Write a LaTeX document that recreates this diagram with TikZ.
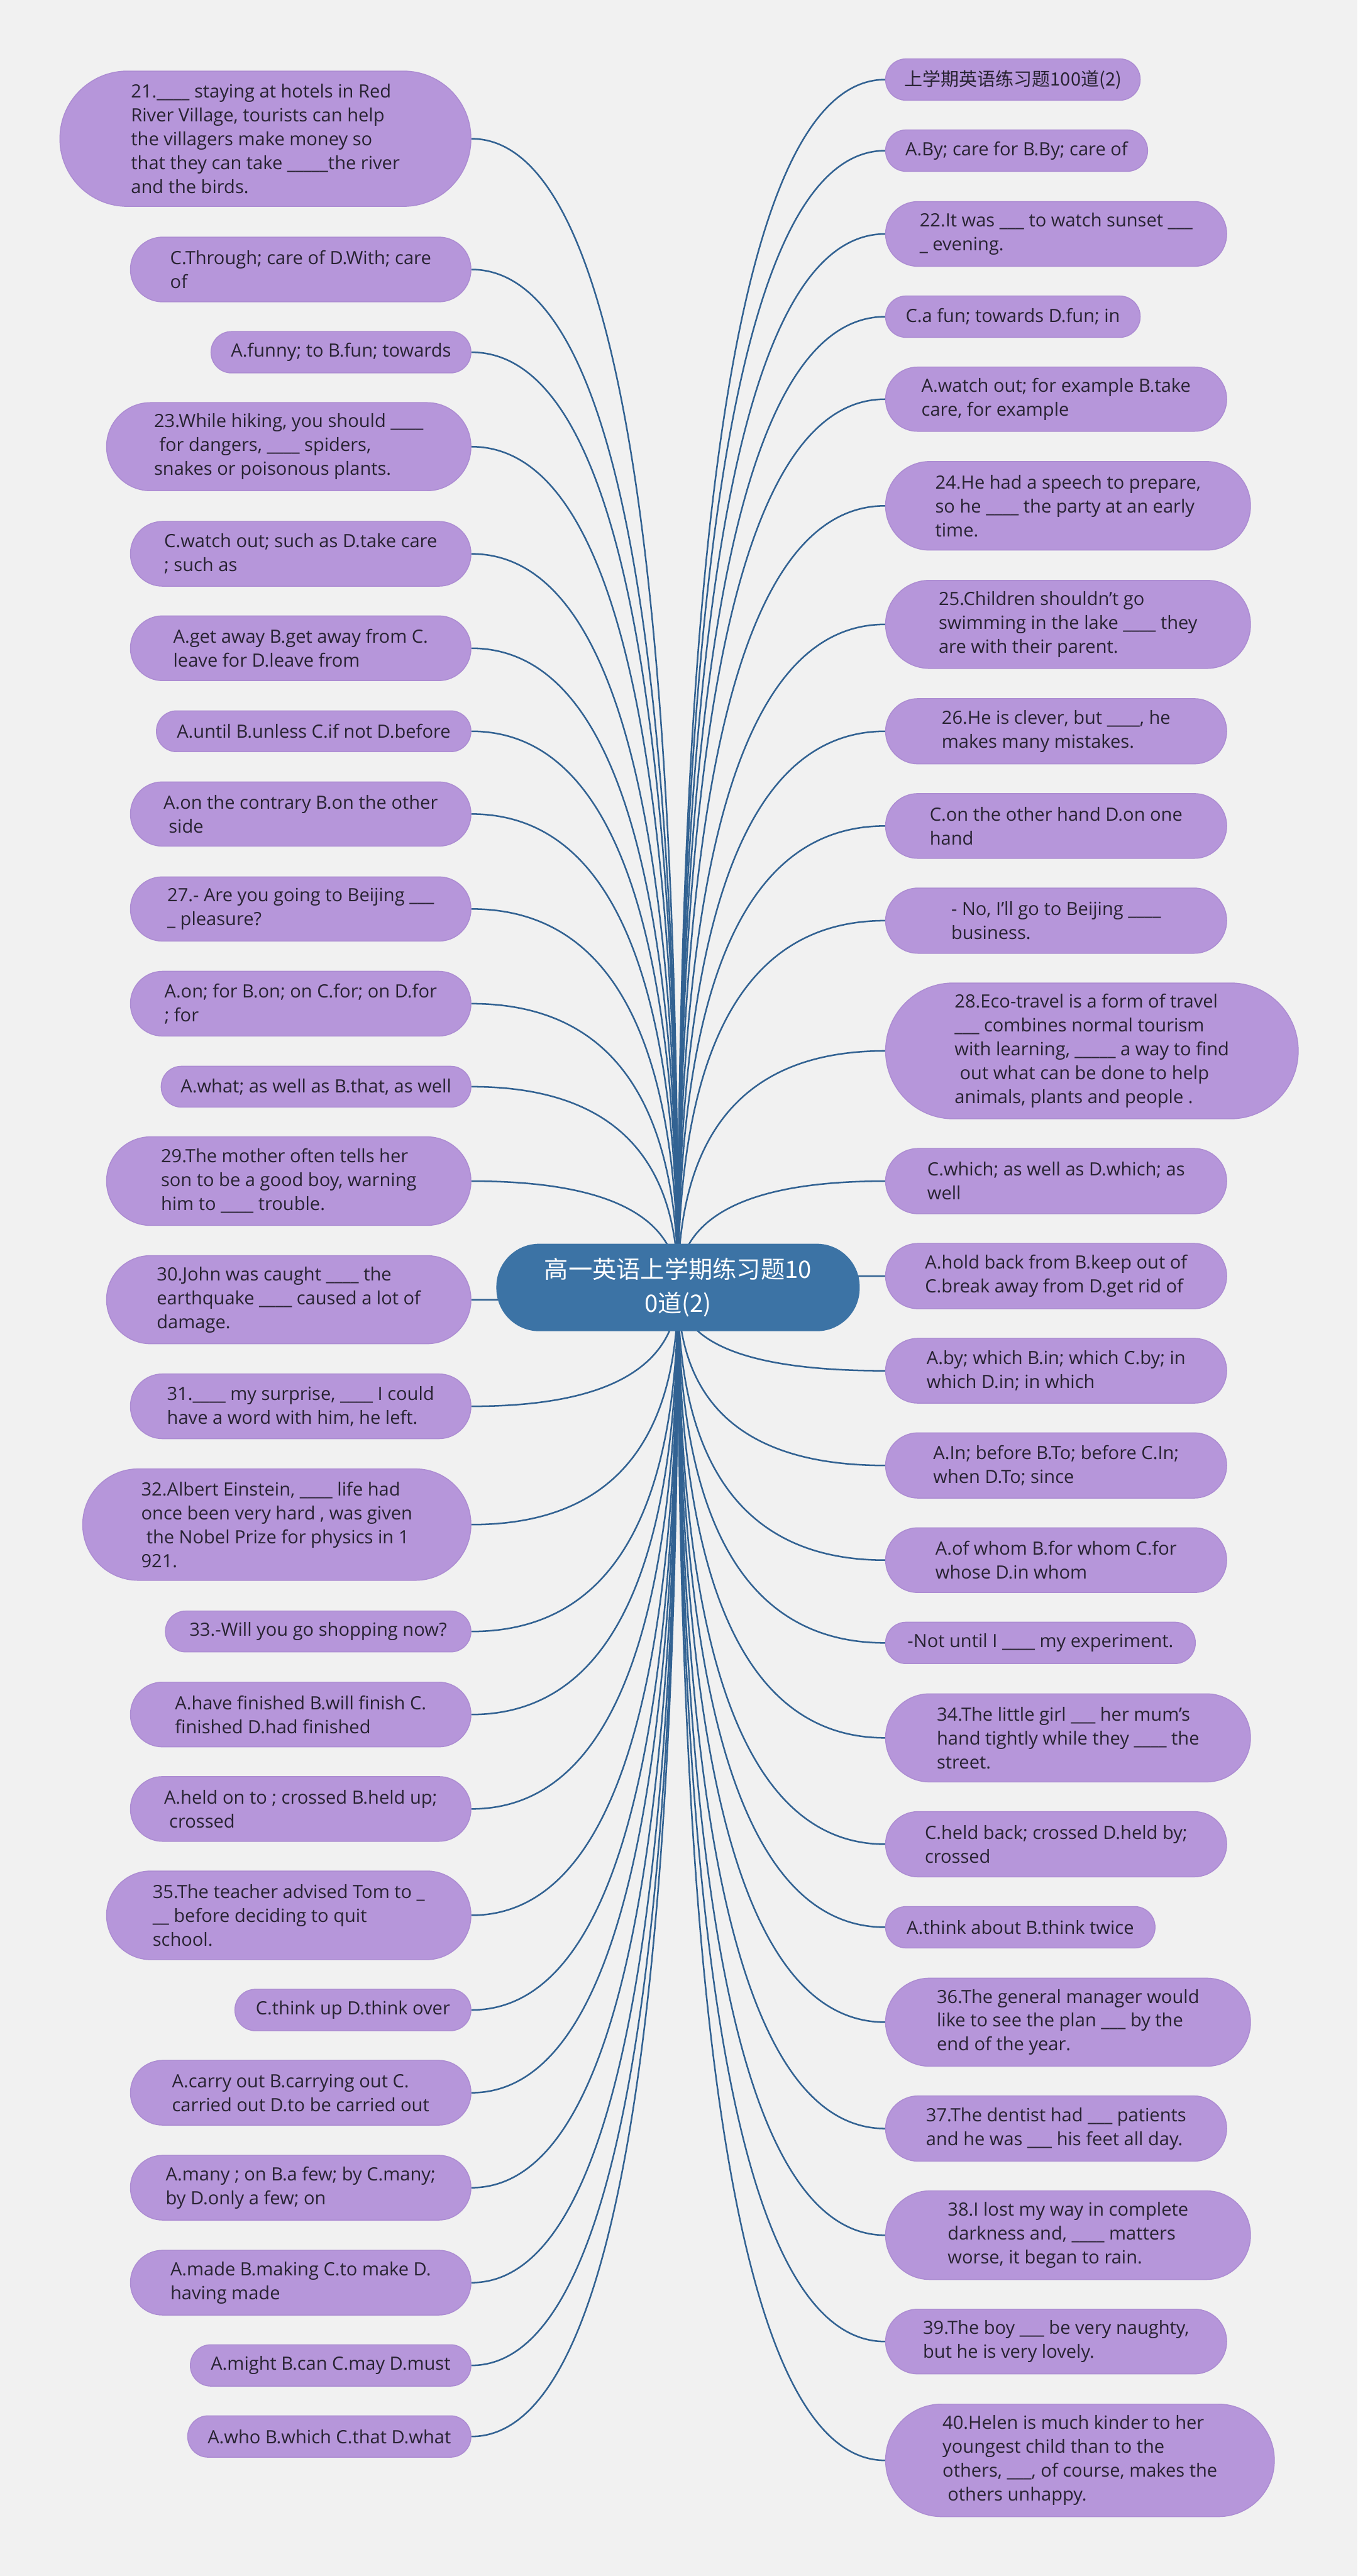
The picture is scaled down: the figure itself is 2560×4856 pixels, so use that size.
\documentclass[tikz,border=0pt]{standalone}
\usepackage{fontspec}
\setmainfont{Open Sans}
\newfontfamily\cjk{Noto Sans CJK SC}
\usetikzlibrary{calc}
\definecolor{bgc}{RGB}{241,241,241}
\definecolor{leaffill}{RGB}{182,150,218}
\definecolor{leafline}{RGB}{172,140,210}
\definecolor{leaftext}{RGB}{40,35,50}
\definecolor{rootfill}{RGB}{60,115,165}
\definecolor{linec}{RGB}{50,98,146}
\pgfdeclarelayer{back}
\pgfdeclarelayer{lines}
\pgfsetlayers{back,lines,main}
\tikzset{
  leaf/.style={draw=leafline, line width=0.5pt, fill=leaffill, text=leaftext, align=left, inner sep=0pt,
    font=\fontsize{9.8}{12.8}\selectfont},
  rootbox/.style={draw=rootfill, line width=0.5pt, fill=rootfill, text=white, align=center, inner sep=0pt,
    font=\cjk\fontsize{12.9}{18.4}\selectfont},
  conn/.style={draw=linec, line width=0.85pt}
}
\newcommand\leafnode[6]{%
  \pgfmathsetmacro\lnW{(#4-#2)*0.01}%
  \pgfmathsetmacro\lnH{(#5-#3)*0.01}%
  \pgfmathsetmacro\lnR{(#5-#3)*0.005-0.005}%
  \pgfmathsetmacro\lnX{(#2+#4)/2}%
  \pgfmathsetmacro\lnY{(#3+#5)/2}%
  \node[leaf, minimum width=\lnW cm, minimum height=\lnH cm, rounded corners=\lnR cm] (#1) at (\lnX,\lnY) {#6};}
% quadratic curve root.center -> corner -> child anchor, written as a cubic
\newcommand\conL[1]{\draw[conn] (root.center) .. controls ($(root.center)!0.6667!(root.center |- #1.east)$) and ($(#1.east)!0.6667!(root.center |- #1.east)$) .. (#1.east);}
\newcommand\conR[1]{\draw[conn] (root.center) .. controls ($(root.center)!0.6667!(root.center |- #1.west)$) and ($(#1.west)!0.6667!(root.center |- #1.west)$) .. (#1.west);}
\newcommand\lsp{\hspace*{0.28em}}
\begin{document}
\begin{tikzpicture}[x=0.01cm,y=-0.01cm]
\begin{pgfonlayer}{back}
\fill[bgc] (0,0) rectangle (2560,4856);
\end{pgfonlayer}
\useasboundingbox (0,0) rectangle (2560,4856);
% root
\node[rootbox, minimum width=6.83cm, minimum height=1.63cm, rounded corners=0.8cm] (root) at (1278.5,2427) {高一英语上学期练习题10\\0道(2)};
% left column
\leafnode{L1}{113}{134}{888}{389}{21.\_\_\_\_ staying at hotels in Red\\River Village, tourists can help\\the villagers make money so\\that they can take \_\_\_\_\_the river\\and the birds.}
\leafnode{L2}{246}{447}{888}{569}{C.Through; care of D.With; care\\of}
\leafnode{L3}{398}{625}{888}{703}{A.funny; to B.fun; towards}
\leafnode{L4}{201}{759}{888}{925}{23.While hiking, you should \_\_\_\_\\\lsp for dangers, \_\_\_\_ spiders,\\snakes or poisonous plants.}
\leafnode{L5}{246}{983}{888}{1105}{C.watch out; such as D.take care\\; such as}
\leafnode{L6}{246}{1161}{888}{1283}{A.get away B.get away from C.\\leave for D.leave from}
\leafnode{L7}{295}{1340}{888}{1417}{A.until B.unless C.if not D.before}
\leafnode{L8}{246}{1474}{888}{1595}{A.on the contrary B.on the other\\\lsp side}
\leafnode{L9}{246}{1653}{888}{1774}{27.- Are you going to Beijing \_\_\_\\\_ pleasure?}
\leafnode{L10}{246}{1831}{888}{1953}{A.on; for B.on; on C.for; on D.for\\; for}
\leafnode{L11}{304}{2010}{888}{2087}{A.what; as well as B.that, as well}
\leafnode{L12}{201}{2143}{888}{2310}{29.The mother often tells her\\son to be a good boy, warning\\him to \_\_\_\_ trouble.}
\leafnode{L13}{201}{2367}{888}{2533}{30.John was caught \_\_\_\_ the\\earthquake \_\_\_\_ caused a lot of\\damage.}
\leafnode{L14}{246}{2590}{888}{2712}{31.\_\_\_\_ my surprise, \_\_\_\_ I could\\have a word with him, he left.}
\leafnode{L15}{156}{2769}{888}{2979}{32.Albert Einstein, \_\_\_\_ life had\\once been very hard , was given\\\lsp the Nobel Prize for physics in 1\\921.}
\leafnode{L16}{312}{3037}{888}{3114}{33.-Will you go shopping now?}
\leafnode{L17}{246}{3171}{888}{3293}{A.have finished B.will finish C.\\finished D.had finished}
\leafnode{L18}{246}{3349}{888}{3471}{A.held on to ; crossed B.held up;\\\lsp crossed}
\leafnode{L19}{201}{3527}{888}{3694}{35.The teacher advised Tom to \_\\\_\_ before deciding to quit\\school.}
\leafnode{L20}{443}{3750}{888}{3828}{C.think up D.think over}
\leafnode{L21}{246}{3884}{888}{4006}{A.carry out B.carrying out C.\\carried out D.to be carried out}
\leafnode{L22}{246}{4063}{888}{4185}{A.many ; on B.a few; by C.many;\\by D.only a few; on}
\leafnode{L23}{246}{4242}{888}{4364}{A.made B.making C.to make D.\\having made}
\leafnode{L24}{359}{4420}{888}{4498}{A.might B.can C.may D.must}
\leafnode{L25}{354}{4554}{888}{4632}{A.who B.which C.that D.what}
% right column
\leafnode{R1}{1670}{111}{2150}{189}{{\cjk 上学期英语练习题100道(2)}}
\leafnode{R2}{1670}{245}{2164}{323}{A.By; care for B.By; care of}
\leafnode{R3}{1670}{380}{2313}{502}{22.It was \_\_\_ to watch sunset \_\_\_\\\_ evening.}
\leafnode{R4}{1670}{558}{2150}{636}{C.a fun; towards D.fun; in}
\leafnode{R5}{1670}{692}{2313}{813}{A.watch out; for example B.take\\care, for example}
\leafnode{R6}{1670}{870}{2358}{1037}{24.He had a speech to prepare,\\so he \_\_\_\_ the party at an early\\time.}
\leafnode{R7}{1670}{1094}{2358}{1260}{25.Children shouldn't go\\swimming in the lake \_\_\_\_ they\\are with their parent.}
\leafnode{R8}{1670}{1317}{2313}{1440}{26.He is clever, but \_\_\_\_, he\\makes many mistakes.}
\leafnode{R9}{1670}{1496}{2313}{1618}{C.on the other hand D.on one\\hand}
\leafnode{R10}{1670}{1674}{2313}{1797}{- No, I'll go to Beijing \_\_\_\_\\business.}
\leafnode{R11}{1670}{1853}{2448}{2109}{28.Eco-travel is a form of travel\\\_\_\_ combines normal tourism\\with learning, \_\_\_\_\_ a way to find\\\lsp out what can be done to help\\animals, plants and people .}
\leafnode{R12}{1670}{2165}{2313}{2288}{C.which; as well as D.which; as\\well}
\leafnode{R13}{1670}{2344}{2313}{2467}{A.hold back from B.keep out of\\C.break away from D.get rid of}
\leafnode{R14}{1670}{2523}{2313}{2645}{A.by; which B.in; which C.by; in\\which D.in; in which}
\leafnode{R15}{1670}{2701}{2313}{2824}{A.In; before B.To; before C.In;\\when D.To; since}
\leafnode{R16}{1670}{2880}{2313}{3002}{A.of whom B.for whom C.for\\whose D.in whom}
\leafnode{R17}{1670}{3058}{2254}{3136}{-Not until I \_\_\_\_ my experiment.}
\leafnode{R18}{1670}{3193}{2358}{3359}{34.The little girl \_\_\_ her mum's\\hand tightly while they \_\_\_\_ the\\street.}
\leafnode{R19}{1670}{3415}{2313}{3538}{C.held back; crossed D.held by;\\crossed}
\leafnode{R20}{1670}{3594}{2178}{3672}{A.think about B.think twice}
\leafnode{R21}{1670}{3729}{2358}{3895}{36.The general manager would\\like to see the plan \_\_\_ by the\\end of the year.}
\leafnode{R22}{1670}{3951}{2313}{4074}{37.The dentist had \_\_\_ patients\\and he was \_\_\_ his feet all day.}
\leafnode{R23}{1670}{4130}{2358}{4297}{38.I lost my way in complete\\darkness and, \_\_\_\_ matters\\worse, it began to rain.}
\leafnode{R24}{1670}{4353}{2313}{4475}{39.The boy \_\_\_ be very naughty,\\but he is very lovely.}
\leafnode{R25}{1670}{4532}{2403}{4744}{40.Helen is much kinder to her\\youngest child than to the\\others, \_\_\_, of course, makes the\\\lsp others unhappy.}
% connectors
\begin{pgfonlayer}{lines}
\foreach \n in {L1,L2,L3,L4,L5,L6,L7,L8,L9,L10,L11,L12,L13,L14,L15,L16,L17,L18,L19,L20,L21,L22,L23,L24,L25} {\conL{\n}}
\foreach \n in {R1,R2,R3,R4,R5,R6,R7,R8,R9,R10,R11,R12,R13,R14,R15,R16,R17,R18,R19,R20,R21,R22,R23,R24,R25} {\conR{\n}}
\end{pgfonlayer}
\end{tikzpicture}
\end{document}
